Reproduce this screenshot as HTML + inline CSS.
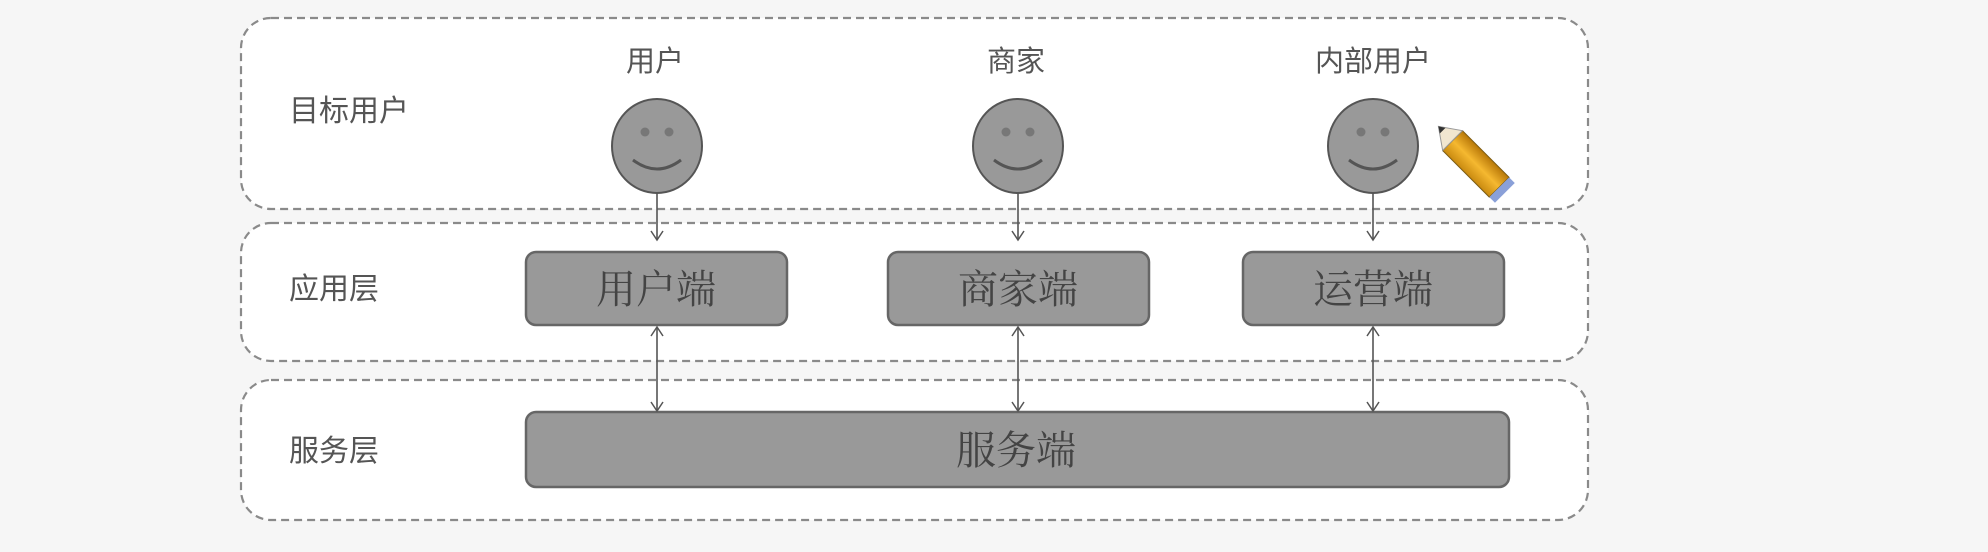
<!DOCTYPE html>
<html><head><meta charset="utf-8"><style>
html,body{margin:0;padding:0;background:#f6f6f6;}
svg{display:block}
</style></head><body>
<svg width="1988" height="552" xmlns="http://www.w3.org/2000/svg">
<defs>
<marker id="a" markerWidth="14" markerHeight="14" refX="10" refY="7" orient="auto-start-reverse" markerUnits="userSpaceOnUse">
<path d="M1,1 L10,7 L1,13" fill="none" stroke="#555" stroke-width="1.5"/>
</marker>
<linearGradient id="pg" x1="0" y1="0" x2="1" y2="0"><stop offset="0" stop-color="#c98a10"/><stop offset="0.5" stop-color="#f5b830"/><stop offset="1" stop-color="#b87808"/></linearGradient>
</defs>
<rect x="0" y="0" width="1988" height="552" fill="#f6f6f6"/>
<g fill="#fff" stroke="#8a8a8a" stroke-width="2.2" stroke-dasharray="8,5">
<rect x="241" y="18" width="1347" height="191" rx="30"/>
<rect x="241" y="223" width="1347" height="138" rx="30"/>
<rect x="241" y="380" width="1347" height="140" rx="30"/>
</g>
<g font-family="'Liberation Sans','Noto Sans CJK SC',sans-serif" font-size="30" fill="#555" text-anchor="start">
<text x="289" y="121">目标用户</text>
<text x="289" y="299">应用层</text>
<text x="289" y="461">服务层</text>
</g>
<g font-family="'Liberation Sans','Noto Sans CJK SC',sans-serif" font-size="29" fill="#555" text-anchor="middle">
<text x="655" y="71">用户</text>
<text x="1016" y="71">商家</text>
<text x="1373" y="71">内部用户</text>
</g>
<g stroke="#555" stroke-width="2">
<g transform="translate(657,146)"><ellipse rx="45" ry="47" fill="#999"/><circle cx="-12" cy="-14" r="4.5" fill="#777" stroke="none"/><circle cx="12" cy="-14" r="4.5" fill="#777" stroke="none"/><path d="M-24,14 Q0,32 24,14" fill="none" stroke-width="3"/></g>
<g transform="translate(1018,146)"><ellipse rx="45" ry="47" fill="#999"/><circle cx="-12" cy="-14" r="4.5" fill="#777" stroke="none"/><circle cx="12" cy="-14" r="4.5" fill="#777" stroke="none"/><path d="M-24,14 Q0,32 24,14" fill="none" stroke-width="3"/></g>
<g transform="translate(1373,146)"><ellipse rx="45" ry="47" fill="#999"/><circle cx="-12" cy="-14" r="4.5" fill="#777" stroke="none"/><circle cx="12" cy="-14" r="4.5" fill="#777" stroke="none"/><path d="M-24,14 Q0,32 24,14" fill="none" stroke-width="3"/></g>
</g>
<g transform="translate(1478,166) rotate(-45)">
<rect x="-14" y="-36" width="28" height="66" fill="url(#pg)" stroke="#7a5a10" stroke-width="1"/>
<rect x="-14" y="30" width="28" height="8" fill="#8aa0d8"/>
<path d="M-14,-36 L0,-56 L14,-36 Z" fill="#f1e6d0" stroke="#999" stroke-width="1"/>
<path d="M-4,-50 L0,-56 L4,-50 Z" fill="#333"/>
</g>
<g fill="#999" stroke="#666" stroke-width="2.5">
<rect x="526" y="252" width="261" height="73" rx="10"/>
<rect x="888" y="252" width="261" height="73" rx="10"/>
<rect x="1243" y="252" width="261" height="73" rx="10"/>
<rect x="526" y="412" width="983" height="75" rx="10"/>
</g>
<g font-family="'Liberation Serif','Noto Serif CJK SC',serif" font-size="40" fill="#444" text-anchor="middle">
<text x="656" y="303">用户端</text>
<text x="1018" y="303">商家端</text>
<text x="1373" y="303">运营端</text>
<text x="1016" y="464">服务端</text>
</g>
<g stroke="#555" stroke-width="1.6" fill="none">
<line x1="657" y1="193" x2="657" y2="240" marker-end="url(#a)"/>
<line x1="1018" y1="193" x2="1018" y2="240" marker-end="url(#a)"/>
<line x1="1373" y1="193" x2="1373" y2="240" marker-end="url(#a)"/>
<line x1="657" y1="327" x2="657" y2="411" marker-start="url(#a)" marker-end="url(#a)"/>
<line x1="1018" y1="327" x2="1018" y2="411" marker-start="url(#a)" marker-end="url(#a)"/>
<line x1="1373" y1="327" x2="1373" y2="411" marker-start="url(#a)" marker-end="url(#a)"/>
</g>
</svg>
</body></html>
